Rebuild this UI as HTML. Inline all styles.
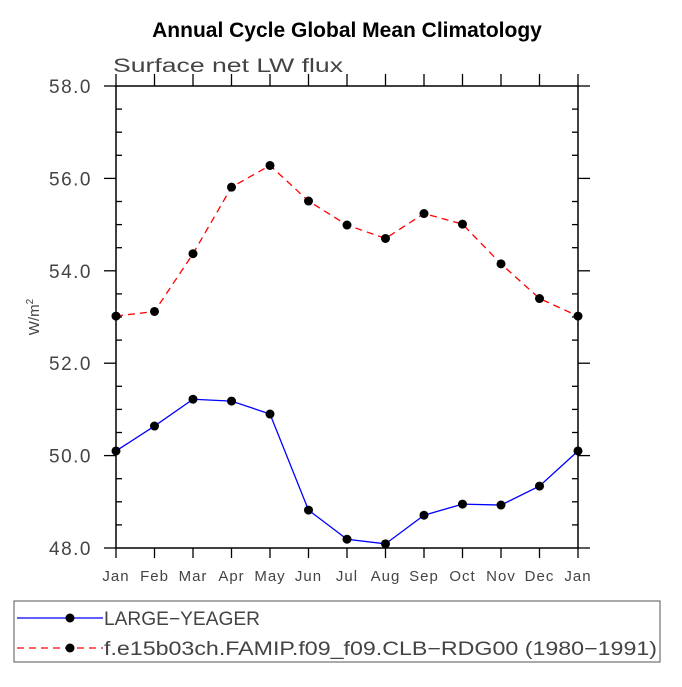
<!DOCTYPE html>
<html><head><meta charset="utf-8"><style>
body{margin:0;background:#fff;}
svg text{font-family:"Liberation Sans",sans-serif;}
</style></head><body>
<svg id="chart" width="682" height="682" viewBox="0 0 682 682" xmlns="http://www.w3.org/2000/svg">
<rect width="682" height="682" fill="#fff"/>
<text x="347" y="37" text-anchor="middle" font-size="21" font-weight="bold" fill="#000">Annual Cycle Global Mean Climatology</text>
<text x="113" y="72" font-size="19" fill="#444" textLength="230" lengthAdjust="spacingAndGlyphs">Surface net LW flux</text>
<text transform="translate(39,317) rotate(-90)" text-anchor="middle" font-size="15" fill="#444">W/m<tspan font-size="10" dy="-6">2</tspan></text>
<g id="axes"></g>
<g id="series"></g>
<g>
<rect x="14" y="601" width="646" height="61" fill="none" stroke="#555" stroke-width="1"/>
<g>
<line x1="17" y1="618" x2="103" y2="618" stroke="#0000ff" stroke-width="1.3"/>
<circle cx="70" cy="618" r="4.5" fill="#000"/>
<text x="104" y="625" font-size="19" fill="#444" textLength="156" lengthAdjust="spacingAndGlyphs">LARGE−YEAGER</text>
</g>
<g>
<line x1="17" y1="648" x2="103" y2="648" stroke="#ff0000" stroke-width="1.3" stroke-dasharray="7,5"/>
<circle cx="70" cy="648" r="4.5" fill="#000"/>
<text x="104" y="655" font-size="19" fill="#444" textLength="553" lengthAdjust="spacingAndGlyphs">f.e15b03ch.FAMIP.f09_f09.CLB−RDG00 (1980−1991)</text>
</g>
</g>
</svg>
<script>
const months = ["Jan","Feb","Mar","Apr","May","Jun","Jul","Aug","Sep","Oct","Nov","Dec","Jan"];
const largeYeager = [50.10,50.64,51.22,51.18,50.90,48.82,48.19,48.09,48.71,48.95,48.93,49.34,50.10];
const famip = [53.02,53.12,54.37,55.81,56.28,55.51,54.99,54.70,55.24,55.01,54.15,53.40,53.02];
const yTicks = [48,50,52,54,56,58];
const yTickLabels = ["48.0","50.0","52.0","54.0","56.0","58.0"];

const NS="http://www.w3.org/2000/svg";
const L=116,R=578,T=86,B=548,ymin=48,ymax=58;
const xs=i=>L+(R-L)*i/(months.length-1);
const ys=v=>B-(v-ymin)/(ymax-ymin)*(B-T);
function mk(tag,attrs,parent){const e=document.createElementNS(NS,tag);for(const k in attrs)e.setAttribute(k,attrs[k]);parent.appendChild(e);return e;}
const axes=document.getElementById('axes');
const frame=mk('rect',{x:L,y:T,width:R-L,height:B-T,fill:'none',stroke:'#000','stroke-width':1.5},axes);


const st={stroke:'#000','stroke-width':1.3};
months.forEach((m,i)=>{
  const x=xs(i);
  mk('line',Object.assign({x1:x,y1:B,x2:x,y2:B+10},st),axes);
  mk('line',Object.assign({x1:x,y1:T,x2:x,y2:T-12},st),axes);
  const t=mk('text',{x:x,y:B+33,'text-anchor':'middle','font-size':15,fill:'#444','letter-spacing':1},axes);
  t.textContent=m;
  
  
});
yTicks.forEach((v,i)=>{
  const y=ys(v);
  mk('line',Object.assign({x1:L-12,y1:y,x2:L,y2:y},st),axes);
  mk('line',Object.assign({x1:R,y1:y,x2:R+12,y2:y},st),axes);
  const t=mk('text',{x:92,y:y+7,'text-anchor':'end','font-size':19,fill:'#444','letter-spacing':1.5},axes);
  t.textContent=yTickLabels[i];
  
  
  if(i<yTicks.length-1){for(let k=1;k<4;k++){const yy=ys(v+(yTicks[i+1]-v)*k/4);
    mk('line',Object.assign({x1:L,y1:yy,x2:L+6,y2:yy},st),axes);
    mk('line',Object.assign({x1:R-6,y1:yy,x2:R,y2:yy},st),axes);}}
});
const sg=document.getElementById('series');
function drawSeries(vals,color,dash,name){
  const g=mk('g',{},sg);
  
  
  const p=mk('polyline',{points:vals.map((v,i)=>xs(i)+','+ys(v)).join(' '),fill:'none',stroke:color,'stroke-width':1.3,'stroke-dasharray':dash},g);
  
  
  vals.forEach((v,i)=>{const c=mk('circle',{cx:xs(i),cy:ys(v),r:4.5,fill:'#000'},g);
    
    });
}
drawSeries(famip,'#ff0000','7,5','famip-series');
drawSeries(largeYeager,'#0000ff','none','large-yeager-series');
</script>
</body></html>
